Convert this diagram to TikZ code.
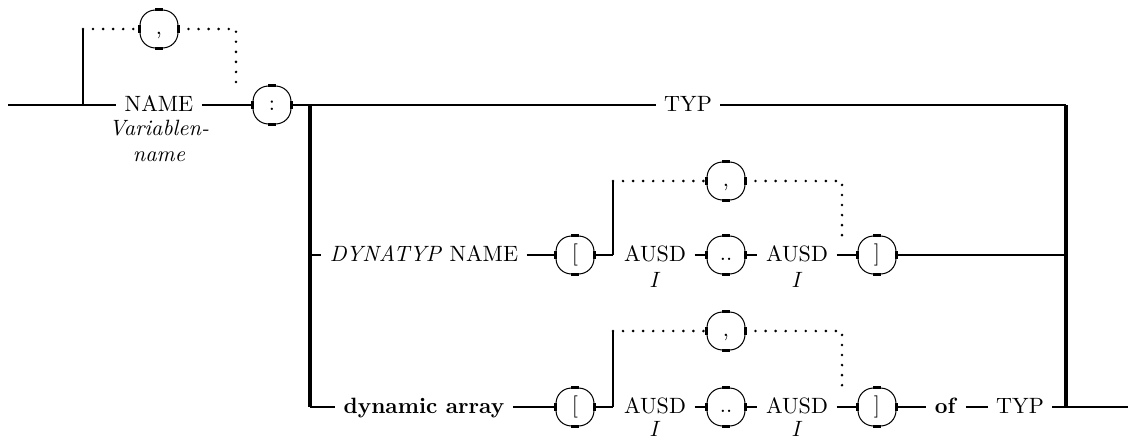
\documentclass[tikz,border=0pt]{standalone}
\usetikzlibrary{calc}
\newcommand\boxticks[1]{%
  \draw[tk] ([yshift=2pt]#1.west) -- ([yshift=-2pt]#1.west);
  \draw[tk] ([yshift=2pt]#1.east) -- ([yshift=-2pt]#1.east);
  \draw[tk] ([xshift=-1.8pt]#1.north) -- ([xshift=1.8pt]#1.north);
  \draw[tk] ([xshift=-1.8pt]#1.south) -- ([xshift=1.8pt]#1.south);}
\begin{document}
\begin{tikzpicture}[x=0.4878pt,y=-0.4878pt,
  font=\fontsize{10.8}{13}\selectfont,
  rb/.style={draw, line width=0.5pt, rounded corners=7.5pt, minimum width=18.5pt,
    minimum height=18.5pt, inner sep=0pt, text height=7pt, text depth=2pt},
  lab/.style={inner xsep=4pt, inner ysep=0pt, text height=6.6pt, text depth=0pt},
  sub/.style={inner sep=0pt, anchor=base},
  tk/.style={line width=1.3pt},
  main/.style={line width=1.3pt},
  vert/.style={line width=1.6pt},
  thin/.style={line width=1pt},
  dotline/.style={line width=1.4pt, dash pattern=on 0pt off 4.9pt, line cap=round}]
\useasboundingbox (0,0) rectangle (1133,440);
% main row
\coordinate (s) at (8,105);
\coordinate (j1) at (83,105);
\coordinate (j1t) at (83,29);
\node[lab] (name) at (159,105) {NAME};
\node[sub] (vn1) at (159,135) {\textit{Variablen-}};
\node[sub] (vn2) at (159,161) {\textit{name}};
\node[rb] (c1) at (159,29) {,};
\coordinate (d1) at (236,29);
\coordinate (d1e) at (236,86);
\node[rb] (colon) at (272,105) {:};
\coordinate (j2) at (310,105);
\node[lab] (typ1) at (688,105) {TYP};
\coordinate (r1) at (1066,105);
% row 2
\coordinate (l2) at (310,255);
\node[lab] (dyn) at (424,255) {\textit{DYNATYP} NAME};
\node[rb] (lb2) at (575,255) {[};
\coordinate (j3) at (613,255);
\coordinate (j3t) at (613,181);
\node[rb] (c2) at (726,181) {,};
\coordinate (d2) at (842,181);
\coordinate (d2e) at (842,236);
\node[lab] (a21) at (655,255) {AUSD};
\node[sub] (i21) at (655,287) {\textit{I}};
\node[rb] (dd2) at (726,255) {..};
\node[lab] (a22) at (797,255) {AUSD};
\node[sub] (i22) at (797,287) {\textit{I}};
\node[rb] (rb2) at (877,255) {]};
\coordinate (r2) at (1066,255);
% row 3
\coordinate (l3) at (310,407);
\node[lab] (da) at (424,407) {\textbf{dynamic array}};
\node[rb] (lb3) at (575,407) {[};
\coordinate (j4) at (613,407);
\coordinate (j4t) at (613,331);
\node[rb] (c3) at (726,331) {,};
\coordinate (d3) at (842,331);
\coordinate (d3e) at (842,388);
\node[lab] (a31) at (655,407) {AUSD};
\node[sub] (i31) at (655,436) {\textit{I}};
\node[rb] (dd3) at (726,407) {..};
\node[lab] (a32) at (797,407) {AUSD};
\node[sub] (i32) at (797,436) {\textit{I}};
\node[rb] (rb3) at (877,407) {]};
\node[lab] (of) at (946,407) {\textbf{of}};
\node[lab] (typ2) at (1020,407) {TYP};
\coordinate (r3) at (1066,407);
\coordinate (e) at (1128,407);
% ticks
\foreach \b in {c1,colon,lb2,c2,dd2,rb2,lb3,c3,dd3,rb3} {\boxticks{\b}}
% connectors
\draw[main] (s) -- (name.west);
\draw[thin] (j1) -- (j1t);
\draw[main] (name.east) -- (colon.west);
\draw[main] (colon.east) -- (typ1.west);
\draw[main] (typ1.east) -- (r1);
\draw[vert] (r1) -- (r3);
\draw[main] (r3) -- (e);
\draw[vert] (j2) -- (l3);
\draw[main] (l3) -- (da.west);
\draw[main] (l2) -- (dyn.west);
\draw[dotline] (j1t) -- (c1.west);
\draw[dotline] (c1.east) -- (d1) -- (d1e);
% row 2 connectors
\draw[thin] (dyn.east) -- (lb2.west);
\draw[thin] (lb2.east) -- (j3);
\draw[thin] (j3) -- (j3t);
\draw[dotline] (j3t) -- (c2.west);
\draw[dotline] (c2.east) -- (d2) -- (d2e);
\draw[thin] (a21.east) -- (dd2.west);
\draw[thin] (dd2.east) -- (a22.west);
\draw[thin] (a22.east) -- (rb2.west);
\draw[thin] (rb2.east) -- (r2);
% row 3 connectors
\draw[thin] (da.east) -- (lb3.west);
\draw[thin] (lb3.east) -- (j4);
\draw[thin] (j4) -- (j4t);
\draw[dotline] (j4t) -- (c3.west);
\draw[dotline] (c3.east) -- (d3) -- (d3e);
\draw[thin] (a31.east) -- (dd3.west);
\draw[thin] (dd3.east) -- (a32.west);
\draw[thin] (a32.east) -- (rb3.west);
\draw[thin] (rb3.east) -- (of.west);
\draw[thin] (of.east) -- (typ2.west);
\draw[main] (typ2.east) -- (r3);
\end{tikzpicture}
\end{document}
